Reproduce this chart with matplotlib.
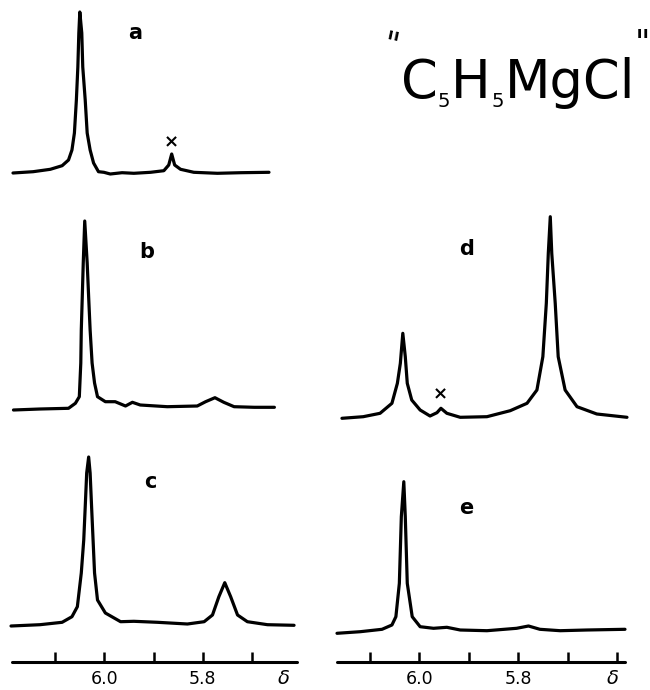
import matplotlib
matplotlib.use("Agg")
import matplotlib.pyplot as plt
from matplotlib.transforms import blended_transform_factory

# ---------------- data (chemical shift delta, ppm ; signal height, arb. units) -------------
a_delta = [6.186, 6.145, 6.110, 6.086, 6.073, 6.066, 6.061, 6.057, 6.054, 6.052, 6.050,
           6.046, 6.044, 6.039, 6.035, 6.029, 6.022, 6.012, 6.001, 5.988, 5.964, 5.940,
           5.906, 5.879, 5.869, 5.863, 5.857, 5.845, 5.818, 5.770, 5.722, 5.665]
a_int = [0.0, 1.3, 3.7, 7.3, 13, 23, 40, 73, 106, 140, 161,
         140, 106, 73, 40, 23, 10, 1.3, 0.7, -1, 0.3, -0.3,
         0.7, 2.3, 8, 19, 8, 3.7, 0.7, -0.3, 0.3, 0.7]

b_delta = [6.185, 6.131, 6.073, 6.059, 6.051, 6.048, 6.047, 6.045, 6.043, 6.040,
           6.035, 6.032, 6.029, 6.025, 6.020, 6.014, 5.998, 5.978, 5.957, 5.943,
           5.927, 5.872, 5.811, 5.794, 5.775, 5.757, 5.736, 5.695, 5.654]
b_int = [-2, -1, -0.3, 4.7, 11.3, 45, 78, 111, 145, 187,
         145, 111, 78, 45, 25, 11.3, 6.3, 6.3, 2, 5.7,
         3, 1.3, 2, 6.3, 10.3, 5.7, 1.3, 0.7, 0.7]

c_delta = [6.190, 6.131, 6.086, 6.066, 6.055, 6.047, 6.042, 6.039, 6.036, 6.032,
           6.029, 6.026, 6.023, 6.020, 6.014, 5.998, 5.967, 5.940, 5.892, 5.831,
           5.797, 5.780, 5.767, 5.755, 5.743, 5.729, 5.709, 5.668, 5.614]
c_int = [-1, 0.3, 2.7, 8.3, 18.3, 52, 85, 118, 152, 168,
         152, 118, 85, 52, 25, 12, 3.3, 3.7, 2.7, 1,
         3.3, 10, 28.3, 42.3, 28.3, 10, 3.3, 0.3, -0.3]

d_delta = [6.156, 6.113, 6.079, 6.055, 6.044, 6.038, 6.033, 6.028, 6.024, 6.015,
           5.998, 5.978, 5.964, 5.956, 5.944, 5.917, 5.863, 5.816, 5.782, 5.762,
           5.750, 5.743, 5.739, 5.735, 5.732, 5.725, 5.719, 5.705, 5.681, 5.641, 5.580]
d_int = [-0.8, 0.8, 4.2, 14.2, 34.2, 54.2, 84.2, 60.8, 34.2, 17.5,
         7.5, 1.5, 4.8, 9.2, 4.2, 0.2, 0.8, 6.8, 14.2, 27.5,
         60.8, 114.2, 164.2, 200.8, 164.2, 114.2, 60.8, 27.5, 10.8, 3.5, 0.2]

e_delta = [6.166, 6.119, 6.075, 6.055, 6.047, 6.040, 6.038, 6.036, 6.031, 6.028,
           6.026, 6.024, 6.014, 5.998, 5.971, 5.944, 5.917, 5.863, 5.803, 5.779,
           5.756, 5.715, 5.661, 5.584]
e_int = [-3.3, -1.7, 0.7, 5, 13.3, 46.7, 80, 113.3, 148.3, 113.3,
         80, 46.7, 13.3, 3.3, 1.7, 2.7, 0, -0.7, 1.7, 4,
         0.7, -0.7, 0, 0.7]

panel_labels = ["a", "b", "c", "d", "e"]
left_ticks = [6.1, 6.0, 5.9, 5.8, 5.7]
right_ticks = [6.1, 6.0, 5.9, 5.8, 5.7, 5.6]
tick_text = {6.0: "6.0", 5.8: "5.8"}
# title "C5H5MgCl" as (text, is_subscript) pieces
title_pieces = [("C", False), ("5", True), ("H", False), ("5", True), ("MgCl", False)]
impurity_mark = "\u00d7"

# ---------------- layout ----------------
W, H = 650, 690
fig = plt.figure(figsize=(W / 100, H / 100), dpi=100)
fig.patch.set_facecolor("white")
FONT = "DejaVu Sans"
LW = 2.3


def add_px_axes(x0, x1, ybot, ytop):
    return fig.add_axes([x0 / W, 1 - ybot / H, (x1 - x0) / W, (ybot - ytop) / H])


axL = add_px_axes(12, 297, 662, 0)
axL.set_xlim(6.188, 5.608)
axR = add_px_axes(337, 625, 662, 0)
axR.set_xlim(6.166, 5.584)

for ax, ticks in ((axL, left_ticks), (axR, right_ticks)):
    ax.set_ylim(0, 662)
    ax.patch.set_alpha(0)
    for s in ("left", "right", "top"):
        ax.spines[s].set_visible(False)
    ax.spines["bottom"].set_linewidth(2.2)
    ax.spines["bottom"].set_capstyle("round")
    ax.set_yticks([])
    ax.set_xticks(ticks)
    ax.set_xticklabels([tick_text.get(t, "") for t in ticks], fontsize=12.5, family=FONT)
    ax.tick_params(axis="x", direction="in", length=7, width=1.8, pad=6)

# offsets of each trace baseline above the delta axis
offsets = {"a": 489, "b": 254, "c": 37, "d": 244.5, "e": 32}
traces = [(axL, "a", a_delta, a_int), (axL, "b", b_delta, b_int), (axL, "c", c_delta, c_int),
          (axR, "d", d_delta, d_int), (axR, "e", e_delta, e_int)]
for ax, key, xs, ys in traces:
    ax.plot(xs, [offsets[key] + v for v in ys], color="black", lw=LW,
            solid_joinstyle="round", solid_capstyle="round", clip_on=False)

label_pos = {"a": (axL, 5.937, 629), "b": (axL, 5.913, 410), "c": (axL, 5.906, 180),
             "d": (axR, 5.904, 413), "e": (axR, 5.904, 154)}
for lab in panel_labels:
    ax, x, y = label_pos[lab]
    ax.text(x, y, lab, fontsize=15, family=FONT, ha="center", va="center", fontweight="bold")

axL.text(5.864, 520, impurity_mark, fontsize=13, family=FONT, ha="center", va="center",
         fontweight="bold")
axR.text(5.958, 268, impurity_mark, fontsize=13, family=FONT, ha="center", va="center",
         fontweight="bold")

# delta symbols at the end of each axis
for ax, x in ((axL, 5.635), (axR, 5.608)):
    tr = blended_transform_factory(ax.transData, ax.transAxes)
    ax.text(x, -0.025, "\u03b4", transform=tr, fontsize=14, family=FONT,
            ha="center", va="center", style="italic")

# title built piece by piece so that the subscripts stay small
renderer = fig.canvas.get_renderer()
xpos = 401.0
for txt, sub in title_pieces:
    size = 14 if sub else 38
    base = 107 if sub else 98
    t = fig.text(xpos / W, 1 - base / H, txt, fontsize=size, family=FONT,
                 ha="left", va="baseline")
    bb = t.get_window_extent(renderer)
    xpos = bb.x1 + (1 if sub else 0)

fig.text(391 / W, 1 - 47 / H, '"', fontsize=24, family=FONT, ha="center", va="center",
         rotation=-12)
fig.text(642 / W, 1 - 45 / H, '"', fontsize=24, family=FONT, ha="center", va="center")

fig.savefig("out.png", dpi=100, facecolor="white")
